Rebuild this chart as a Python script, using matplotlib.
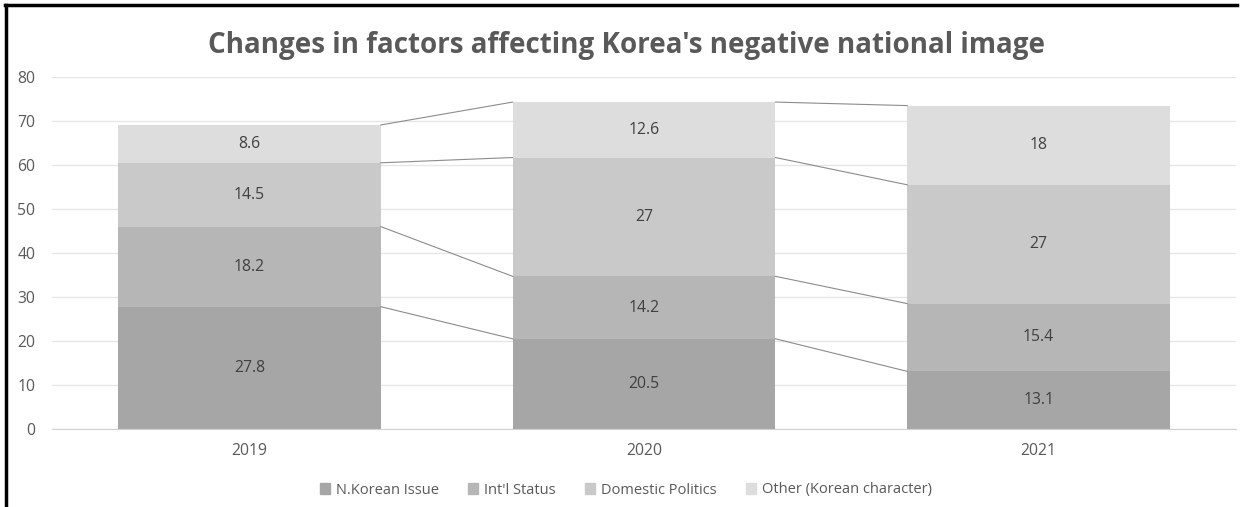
import numpy as np
import matplotlib.pyplot as plt
from matplotlib.lines import Line2D

# ---- data ----
years = ["2019", "2020", "2021"]
series_names = ["N.Korean Issue", "Int'l Status", "Domestic Politics", "Other (Korean character)"]
nkorean = [27.8, 20.5, 13.1]
intl_status = [18.2, 14.2, 15.4]
domestic = [14.5, 27, 27]
other = [8.6, 12.6, 18]
labels_txt = [["27.8", "20.5", "13.1"],
              ["18.2", "14.2", "15.4"],
              ["14.5", "27", "27"],
              ["8.6", "12.6", "18"]]

colors = ["#a6a6a6", "#b6b6b6", "#c9c9c9", "#dddddd"]
text_gray = "#595959"

plt.rcParams["font.family"] = ["Open Sans", "DejaVu Sans"]

fig = plt.figure(figsize=(12.52, 5.07), dpi=100)
ax = fig.add_axes([52 / 1252, 1 - 429 / 507, (1236 - 52) / 1252, (429 - 77) / 507])

x = np.arange(len(years))
width = 0.666
values = [nkorean, intl_status, domestic, other]
bottom = np.zeros(len(years))
tops = []
for i, vals in enumerate(values):
    vals = np.array(vals, dtype=float)
    ax.bar(x, vals, width, bottom=bottom, color=colors[i], label=series_names[i], zorder=2)
    for j in range(len(years)):
        ax.text(x[j], bottom[j] + vals[j] / 2, labels_txt[i][j], ha="center", va="center",
                fontsize=11.3, color="#404040", zorder=3)
    bottom = bottom + vals
    tops.append(bottom.copy())

# series lines between bars
for t in tops:
    for j in range(len(years) - 1):
        ax.plot([x[j] + width / 2, x[j + 1] - width / 2], [t[j], t[j + 1]],
                color="#8c8c8c", lw=0.8, zorder=3)

ax.set_xlim(-0.5, 2.5)
ax.set_ylim(0, 80)
ax.set_yticks(range(0, 81, 10))
ax.set_xticks(x)
ax.set_xticklabels(years)
ax.grid(axis="y", color="#e6e6e6", lw=1, zorder=0)
ax.set_axisbelow(True)
for s in ["top", "right", "left"]:
    ax.spines[s].set_visible(False)
ax.spines["bottom"].set_color("#d0d0d0")
ax.tick_params(axis="both", length=0, labelsize=11.3, labelcolor=text_gray)
ax.tick_params(axis="y", pad=12)
ax.tick_params(axis="x", pad=10)

fig.text(0.5, 1 - 46 / 507, "Changes in factors affecting Korea's negative national image",
         ha="center", va="center", fontsize=20, fontweight="bold", color=text_gray)

handles = [plt.Rectangle((0, 0), 1, 1, color=c) for c in colors]
fig.legend(handles, series_names, loc="center", bbox_to_anchor=(0.5, 1 - 490 / 507),
           ncol=4, frameon=False, fontsize=10.5, labelcolor=text_gray,
           handlelength=0.7, handleheight=0.7, handletextpad=0.4, columnspacing=2.0)

# frame lines at top and left of the image
fig.add_artist(Line2D([5 / 1252, 1237 / 1252], [1 - 5 / 507, 1 - 5 / 507], color="black", lw=2.5))
fig.add_artist(Line2D([6 / 1252, 6 / 1252], [0, 1 - 5 / 507], color="black", lw=2.5))

fig.savefig("out.png", dpi=100)
